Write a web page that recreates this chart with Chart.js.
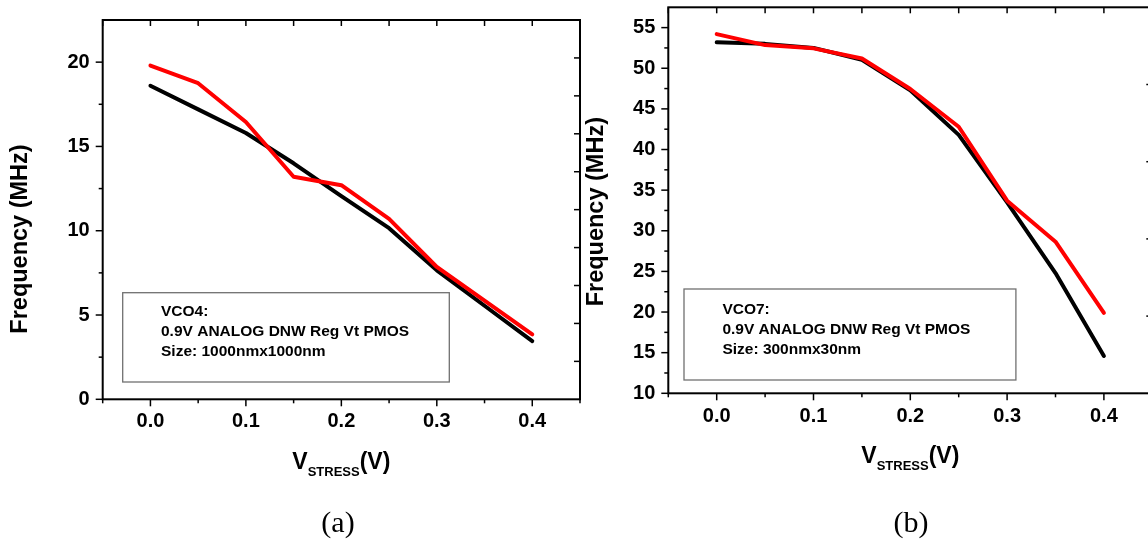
<!DOCTYPE html>
<html lang="en">

<head>
  <meta charset="UTF-8">
  <title>VCO frequency vs stress voltage</title>
  <script src="https://cdn.jsdelivr.net/npm/chart.js"></script>
  <style>
    body {
      margin: 0;
      width: 1148px;
      height: 542px;
      overflow: hidden;
      background: #fff;
      position: relative;
    }

    canvas {
      position: absolute;
      top: 0;
    }
  </style>
</head>

<body>
  <canvas id="vco4" width="590" height="542" style="left:0px"></canvas>
  <canvas id="vco7" width="580" height="542" style="left:583px"></canvas>

  <script>
    // stress voltage (V)
    const vStress = [0, 0.05, 0.1, 0.15, 0.2, 0.25, 0.3, 0.35, 0.4];

    // VCO4 frequency (MHz)
    const vco4Black = [18.6, 17.2, 15.8, 14.0, 12.05, 10.15, 7.65, 5.55, 3.45];
    const vco4Red = [19.8, 18.75, 16.45, 13.2, 12.7, 10.7, 7.85, 5.85, 3.85];

    // VCO7 frequency (MHz)
    const vco7Black = [53.2, 53.0, 52.5, 51.05, 47.3, 41.8, 33.5, 24.8, 14.6];
    const vco7Red = [54.2, 52.85, 52.45, 51.2, 47.45, 42.8, 33.7, 28.65, 19.9];

    // axis ticks
    const xTicks = [0, 0.1, 0.2, 0.3, 0.4];
    const xMinor = [-0.05, 0.05, 0.15, 0.25, 0.35, 0.45];
    const yTicks4 = [0, 5, 10, 15, 20];
    const yMinor4 = [2.5, 7.5, 12.5, 17.5];
    const yTicks7 = [10, 15, 20, 25, 30, 35, 40, 45, 50, 55];
    const yMinor7 = [12.5, 17.5, 22.5, 27.5, 32.5, 37.5, 42.5, 47.5, 52.5];
    const rightTicks4 = [1, 2, 3, 4, 5, 6, 7, 8, 9];
    const rightTicks7 = [1, 2, 3, 4];

    const FONT = 'Arial, "Liberation Sans", sans-serif';
    Chart.defaults.font.family = FONT;
    Chart.defaults.color = '#000';

    // box frame, tick marks, titles and the note box
    const framePlugin = {
      id: 'frame',
      afterDatasetsDraw(chart, args, o) {
        const { ctx, chartArea: a, scales } = chart;
        const x = scales.x, y = scales.y, y2 = scales.y2;
        const line = (x1, y1, x2, y2_) => {
          ctx.beginPath(); ctx.moveTo(x1, y1); ctx.lineTo(x2, y2_); ctx.stroke();
        };
        ctx.save();
        ctx.strokeStyle = '#000';
        ctx.lineWidth = 1.5;
        xTicks.forEach(v => {
          const px = x.getPixelForValue(v);
          line(px, a.bottom, px, a.bottom + 7);
          line(px, a.top, px, a.top + 6);
        });
        xMinor.forEach(v => {
          const px = x.getPixelForValue(v);
          line(px, a.bottom, px, a.bottom + 4);
          line(px, a.top, px, a.top + 6);
        });
        o.yMajor.forEach(v => {
          const py = y.getPixelForValue(v);
          line(a.left - 7, py, a.left, py);
        });
        o.yMinor.forEach(v => {
          const py = y.getPixelForValue(v);
          line(a.left - 4, py, a.left, py);
        });
        o.right.forEach(v => {
          const py = y2.getPixelForValue(v);
          line(a.right - 6, py, a.right, py);
        });
        ctx.lineWidth = 2;
        ctx.strokeRect(a.left, a.top, a.right - a.left, a.bottom - a.top);

        // note box
        const n = o.note;
        ctx.strokeStyle = '#707070';
        ctx.lineWidth = 1.3;
        ctx.strokeRect(n.box[0], n.box[1], n.box[2] - n.box[0], n.box[3] - n.box[1]);
        ctx.fillStyle = '#000';
        ctx.font = 'bold 15.5px ' + FONT;
        ctx.textAlign = 'left';
        ctx.textBaseline = 'alphabetic';
        n.lines.forEach((t, i) => ctx.fillText(t, n.x, n.y + i * 20));

        // y title
        ctx.save();
        ctx.translate(o.yTitle.x, o.yTitle.y);
        ctx.rotate(-Math.PI / 2);
        ctx.font = 'bold 23.5px ' + FONT;
        ctx.textAlign = 'center';
        ctx.textBaseline = 'middle';
        ctx.fillText('Frequency (MHz)', 0, 0);
        ctx.restore();

        // x title with subscript
        const big = 'bold 23px ' + FONT, small = 'bold 13px ' + FONT;
        ctx.font = big;
        const wV = ctx.measureText('V').width, wP = ctx.measureText('(V)').width;
        ctx.font = small;
        const wS = ctx.measureText('STRESS').width;
        let tx = (a.left + a.right) / 2 - (wV + wS + wP) / 2;
        const base = a.bottom + 69.5;
        ctx.font = big; ctx.fillText('V', tx, base); tx += wV;
        ctx.font = small; ctx.fillText('STRESS', tx, base + 7.5); tx += wS;
        ctx.font = big; ctx.fillText('(V)', tx, base);

        // panel caption
        ctx.font = '30px "Times New Roman", "Liberation Serif", serif';
        ctx.textAlign = 'center';
        ctx.fillText(o.caption.text, o.caption.x, 532);
        ctx.restore();
      }
    };

    const makeChart = (id, black, red, yRange, yTicks, yMinor, rightMax, rightTicks, geo) => {
      new Chart(document.getElementById(id), {
        type: 'line',
        data: {
          datasets: [
            {
              data: vStress.map((v, i) => ({ x: v, y: red[i] })),
              borderColor: '#ff0000',
            },
            {
              data: vStress.map((v, i) => ({ x: v, y: black[i] })),
              borderColor: '#000000',
            },
          ],
        },
        options: {
          responsive: false,
          animation: false,
          devicePixelRatio: 1,
          layout: { padding: geo.padding },
          elements: {
            line: { borderWidth: 4, tension: 0, borderCapStyle: 'round', borderJoinStyle: 'round' },
            point: { radius: 0 },
          },
          scales: {
            x: {
              type: 'linear',
              min: -0.05,
              max: 0.45,
              afterBuildTicks: s => { s.ticks = xTicks.map(v => ({ value: v })); },
              afterFit: s => { s.height = 60; s.paddingLeft = 0; s.paddingRight = 0; },
              ticks: {
                callback: v => v.toFixed(1),
                font: { size: 20, weight: 'bold' },
                padding: geo.xPad,
                maxRotation: 0,
                autoSkip: false,
              },
              grid: { display: false, drawTicks: false },
              border: { display: false },
            },
            y: {
              min: yRange[0],
              max: yRange[1],
              afterBuildTicks: s => { s.ticks = yTicks.map(v => ({ value: v })); },
              afterFit: s => { s.width = geo.yWidth; s.paddingTop = 0; s.paddingBottom = 0; },
              ticks: { font: { size: 20, weight: 'bold' }, padding: 13 },
              grid: { display: false, drawTicks: false },
              border: { display: false },
            },
            y2: {
              position: 'right',
              display: false,
              min: 0,
              max: rightMax,
            },
          },
          plugins: {
            legend: { display: false },
            tooltip: { enabled: false },
            frame: {
              yMajor: yTicks,
              yMinor: yMinor,
              right: rightTicks,
              note: geo.note,
              yTitle: geo.yTitle,
              caption: geo.caption,
            },
          },
        },
        plugins: [framePlugin],
      });
    };

    makeChart('vco4', vco4Black, vco4Red, [0, 22.5], yTicks4, yMinor4, 10, rightTicks4, {
      padding: { left: 0, top: 20, right: 10, bottom: 82.7 },
      yWidth: 102.7,
      xPad: 10,
      note: {
        box: [122.7, 292.7, 449.3, 382],
        x: 161, y: 316,
        lines: ['VCO4:', '0.9V ANALOG DNW Reg Vt PMOS', 'Size: 1000nmx1000nm'],
      },
      yTitle: { x: 21, y: 239 },
      caption: { text: '(a)', x: 338 },
    });

    makeChart('vco7', vco7Black, vco7Red, [10, 57.5], yTicks7, yMinor7, 5, rightTicks7, {
      padding: { left: 0, top: 7.3, right: 10.7, bottom: 88.7 },
      yWidth: 85.3,
      xPad: 11,
      note: {
        box: [101, 289, 432.9, 380],
        x: 139.4, y: 313.5,
        lines: ['VCO7:', '0.9V ANALOG DNW Reg Vt PMOS', 'Size: 300nmx30nm'],
      },
      yTitle: { x: 14, y: 211.7 },
      caption: { text: '(b)', x: 328 },
    });
  </script>
</body>

</html>
